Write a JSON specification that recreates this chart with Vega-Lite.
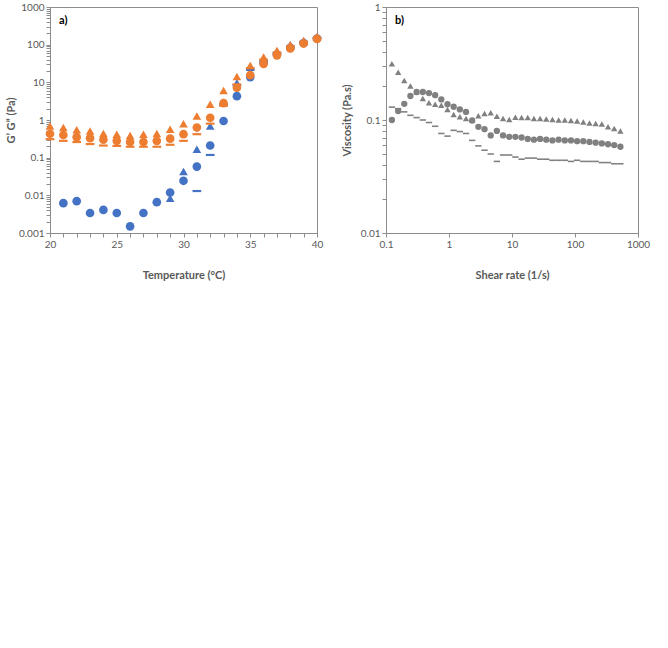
{"padding":{"left":4,"top":1,"right":0,"bottom":0},"background":"white","config":{"font":"Lato","view":{"stroke":"#8c8c8c","strokeWidth":1},"axis":{"labelFont":"Lato","labelFontSize":10,"labelColor":"#595959","titleFont":"Lato","titleFontSize":11,"titleColor":"#595959","titleFontWeight":"bold","domainColor":"#8c8c8c","tickColor":"#8c8c8c","tickSize":4,"labelPadding":2,"grid":false,"labelFlush":false,"labelOverlap":false}},"spacing":16,"hconcat":[{"width":267,"height":226,"title":{"text":"a)","anchor":"start","frame":"group","offset":-24,"dx":9,"fontSize":11,"fontWeight":"bold","color":"#000000"},"data":{"values":[{"T":20,"oT":0.69,"oC":0.43,"oD":0.31},{"T":21,"bC":0.0062,"oT":0.63,"oC":0.40,"oD":0.28},{"T":22,"bC":0.0070,"oT":0.55,"oC":0.35,"oD":0.26},{"T":23,"bC":0.0034,"oT":0.51,"oC":0.33,"oD":0.23},{"T":24,"bC":0.0041,"oT":0.44,"oC":0.30,"oD":0.21},{"T":25,"bC":0.0034,"oT":0.42,"oC":0.28,"oD":0.205},{"T":26,"bC":0.0015,"oT":0.39,"oC":0.26,"oD":0.195},{"T":27,"bC":0.0034,"oT":0.42,"oC":0.26,"oD":0.195},{"T":28,"bC":0.0066,"oT":0.44,"oC":0.28,"oD":0.195},{"T":29,"bT":0.0084,"bC":0.0119,"oT":0.57,"oC":0.32,"oD":0.22},{"T":30,"bT":0.043,"bC":0.0243,"oT":0.80,"oC":0.42,"oD":0.28},{"T":31,"bT":0.167,"bC":0.058,"bD":0.013,"oT":1.28,"oC":0.63,"oD":0.42},{"T":32,"bT":0.69,"bC":0.21,"bD":0.118,"oT":2.6,"oC":1.15,"oD":0.80},{"T":33,"bT":2.9,"bC":0.94,"bD":2.6,"oT":6.1,"oC":2.8,"oD":2.4},{"T":34,"bT":9.7,"bC":4.3,"bD":8.5,"oT":14.3,"oC":7.2,"oD":8.8},{"T":35,"bT":25,"bC":13.8,"bD":22,"oT":28,"oC":15.5,"oD":24},{"T":36,"bT":44,"bC":33,"bD":38,"oT":47,"oC":31,"oD":40},{"T":37,"bT":67,"bC":55,"bD":60,"oT":70,"oC":52,"oD":62},{"T":38,"bT":100,"bC":82,"bD":90,"oT":100,"oC":79,"oD":92},{"T":39,"bT":128,"bC":111,"bD":118,"oT":128,"oC":107,"oD":120},{"T":40,"bT":158,"bC":146,"bD":150,"oT":162,"oC":142,"oD":152}]},"transform":[{"fold":["bT","bC","bD","oT","oC","oD"],"as":["s","v"]},{"filter":"isValid(datum.v)"}],"mark":{"type":"point","filled":true,"opacity":1,"size":75},"encoding":{"x":{"field":"T","type":"quantitative","scale":{"domain":[20,40],"nice":false,"zero":false},"axis":{"values":[20,21,22,23,24,25,26,27,28,29,30,31,32,33,34,35,36,37,38,39,40],"labelExpr":"datum.value % 5 == 0 ? datum.label : ''","title":"Temperature (\u00b0C)","titlePadding":20}},"y":{"field":"v","type":"quantitative","scale":{"type":"log","domain":[0.001,1000],"nice":false},"axis":{"values":[0.001,0.002,0.003,0.004,0.005,0.006,0.007,0.008,0.009,0.01,0.02,0.03,0.04,0.05,0.06,0.07,0.08,0.09,0.1,0.2,0.3,0.4,0.5,0.6,0.7,0.8,0.9,1,2,3,4,5,6,7,8,9,10,20,30,40,50,60,70,80,90,100,200,300,400,500,600,700,800,900,1000],"format":"~g","labelExpr":"indexof([0.001,0.01,0.1,1,10,100,1000], datum.value) >= 0 ? datum.label : ''","title":"G\u2019 G\u201d (Pa)","titlePadding":2}},"color":{"field":"s","type":"nominal","scale":{"domain":["bT","bC","bD","oT","oC","oD"],"range":["#4472C4","#4472C4","#4472C4","#ED7D31","#ED7D31","#ED7D31"]},"legend":null},"shape":{"field":"s","type":"nominal","scale":{"domain":["bT","bC","bD","oT","oC","oD"],"range":["triangle-up","circle","M-1,-0.25H1V0.25H-1Z","triangle-up","circle","M-1,-0.25H1V0.25H-1Z"]},"legend":null}}},{"width":252,"height":226,"title":{"text":"b)","anchor":"start","frame":"group","offset":-24,"dx":9,"fontSize":11,"fontWeight":"bold","color":"#000000"},"data":{"values":[{"r":0.124,"bT":0.314,"bC":0.100,"bD":0.130},{"r":0.156,"bT":0.265,"bC":0.120,"bD":0.126},{"r":0.195,"bT":0.224,"bC":0.139,"bD":0.118},{"r":0.244,"bT":0.200,"bC":0.163,"bD":0.110},{"r":0.306,"bT":0.177,"bC":0.177,"bD":0.105},{"r":0.384,"bT":0.155,"bC":0.177,"bD":0.100},{"r":0.481,"bT":0.142,"bC":0.173,"bD":0.095},{"r":0.603,"bT":0.138,"bC":0.166,"bD":0.088},{"r":0.755,"bT":0.135,"bC":0.152,"bD":0.076},{"r":0.946,"bT":0.124,"bC":0.138,"bD":0.072},{"r":1.186,"bT":0.112,"bC":0.131,"bD":0.081},{"r":1.486,"bT":0.107,"bC":0.124,"bD":0.079},{"r":1.862,"bT":0.103,"bC":0.118,"bD":0.076},{"r":2.333,"bT":0.0993,"bC":0.099,"bD":0.066},{"r":2.924,"bT":0.109,"bC":0.087,"bD":0.059},{"r":3.664,"bT":0.114,"bC":0.083,"bD":0.054},{"r":4.592,"bT":0.116,"bC":0.073,"bD":0.050},{"r":5.754,"bT":0.108,"bC":0.080,"bD":0.043},{"r":7.211,"bT":0.103,"bC":0.073,"bD":0.049},{"r":9.036,"bT":0.101,"bC":0.071,"bD":0.049},{"r":11.32,"bT":0.106,"bC":0.071,"bD":0.047},{"r":14.19,"bT":0.105,"bC":0.070,"bD":0.045},{"r":17.78,"bT":0.105,"bC":0.068,"bD":0.046},{"r":22.28,"bT":0.103,"bC":0.067,"bD":0.046},{"r":27.93,"bT":0.103,"bC":0.068,"bD":0.045},{"r":34.99,"bT":0.102,"bC":0.067,"bD":0.045},{"r":43.85,"bT":0.101,"bC":0.066,"bD":0.044},{"r":54.95,"bT":0.100,"bC":0.067,"bD":0.044},{"r":68.87,"bT":0.100,"bC":0.066,"bD":0.044},{"r":86.30,"bT":0.099,"bC":0.066,"bD":0.043},{"r":108.1,"bT":0.098,"bC":0.065,"bD":0.044},{"r":135.5,"bT":0.096,"bC":0.065,"bD":0.043},{"r":169.8,"bT":0.094,"bC":0.064,"bD":0.043},{"r":212.8,"bT":0.093,"bC":0.063,"bD":0.043},{"r":266.7,"bT":0.092,"bC":0.062,"bD":0.042},{"r":334.2,"bT":0.087,"bC":0.061,"bD":0.042},{"r":418.8,"bT":0.084,"bC":0.060,"bD":0.041},{"r":524.8,"bT":0.080,"bC":0.058,"bD":0.041}]},"transform":[{"fold":["bT","bC","bD"],"as":["s","v"]}],"mark":{"type":"point","filled":true,"opacity":1,"color":"#808080","size":40},"encoding":{"x":{"field":"r","type":"quantitative","scale":{"type":"log","domain":[0.1,1000],"nice":false},"axis":{"values":[0.1,1,10,100,1000],"format":"~g","title":"Shear rate (1/s)","titlePadding":20}},"y":{"field":"v","type":"quantitative","scale":{"type":"log","domain":[0.01,1],"nice":false},"axis":{"values":[0.01,0.02,0.03,0.04,0.05,0.06,0.07,0.08,0.09,0.1,0.2,0.3,0.4,0.5,0.6,0.7,0.8,0.9,1],"format":"~g","labelExpr":"indexof([0.01,0.1,1], datum.value) >= 0 ? datum.label : ''","title":"Viscosity (Pa.s)","titlePadding":8}},"shape":{"field":"s","type":"nominal","scale":{"domain":["bT","bC","bD","oT","oC","oD"],"range":["triangle-up","circle","M-1,-0.25H1V0.25H-1Z","triangle-up","circle","M-1,-0.25H1V0.25H-1Z"]},"legend":null}}}]}
